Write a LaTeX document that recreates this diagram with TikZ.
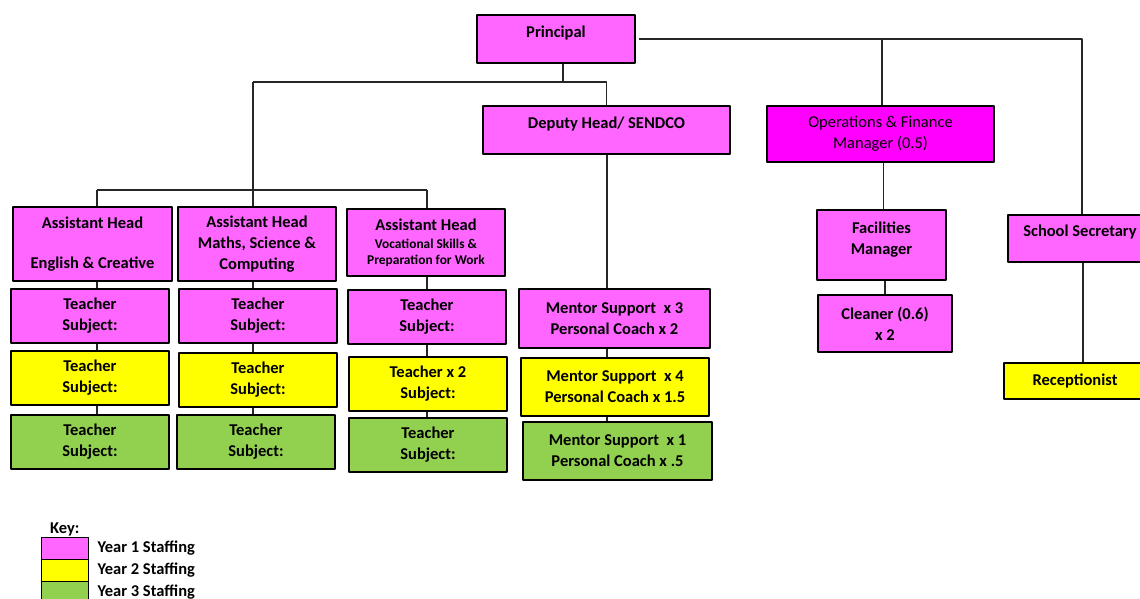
\documentclass[tikz,border=0pt]{standalone}
\usepackage{fontspec}
\setmainfont{Carlito}
\definecolor{yrone}{HTML}{FF66FF}
\definecolor{opsmag}{HTML}{FF00FF}
\definecolor{yrtwo}{HTML}{FFFF00}
\definecolor{yrthree}{HTML}{92D050}
\newcommand\orgfont{\fontsize{16.5}{21}\selectfont}
\newcommand\vocfont{\fontsize{13.4}{16}\selectfont}
\tikzset{
  post/.style={draw=black, line width=2.2pt, align=center, inner sep=0pt, font=\bfseries\orgfont},
  uptext/.style={text height=12pt, text depth=16pt},
  link/.style={draw=black!85, line width=1.8pt},
  swatch/.style={draw=black, line width=0.8pt, minimum width=47, minimum height=22, inner sep=0pt},
}
\begin{document}
\begin{tikzpicture}[x=1pt, y=-1pt, line join=round]
			\useasboundingbox (0,0) rectangle (1140,598);
			\clip (0,0) rectangle (1140,598);
			% top of the chart
			\node[post, uptext, fill=yrone, minimum width=158, minimum height=48] (principal) at (556,39) {Principal};
			\node[post, uptext, fill=yrone, minimum width=247, minimum height=48] (deputy) at (606.5,130) {Deputy Head/ SENDCO};
			\node[post, font=\orgfont, fill=opsmag, minimum width=227, minimum height=56] (ops) at (880.5,134) {Operations \& Finance\\Manager (0.5)};
			\node[post, fill=yrone, minimum width=129, minimum height=70] (fac) at (881.5,245) {Facilities\\Manager\\[-8pt]\mbox{}};
			\node[post, fill=yrone, minimum width=134, minimum height=57] (cleaner) at (885,323.5) {Cleaner (0.6)\\x 2};
			\node[post, uptext, fill=yrone, minimum width=144, minimum height=47] (secretary) at (1080,238.5) {School Secretary};
			\node[post, fill=yrtwo, minimum width=142, minimum height=36] (recep) at (1075,381) {Receptionist};
			% assistant heads
			\node[post, fill=yrone, minimum width=159, minimum height=74] (ah1) at (92.5,244) {Assistant Head\\[19pt]English \& Creative};
			\node[post, fill=yrone, minimum width=158, minimum height=74] (ah2) at (257,244) {Assistant Head\\Maths, Science \&\\Computing};
			\node[post, fill=yrone, minimum width=158, minimum height=67] (ah3) at (426,242.5) {Assistant Head\\[-3pt]{\vocfont Vocational Skills \&}\\[-5pt]{\vocfont Preparation for Work}};
			% teachers
			\node[post, fill=yrone, minimum width=158, minimum height=54] (t1a) at (90,316) {Teacher\\Subject:};
			\node[post, fill=yrone, minimum width=158, minimum height=54] (t2a) at (258,316) {Teacher\\Subject:};
			\node[post, fill=yrone, minimum width=158, minimum height=54] (t3a) at (427,317) {Teacher\\Subject:};
			\node[post, fill=yrtwo, minimum width=158, minimum height=54] (t1b) at (90,378) {Teacher\\Subject:};
			\node[post, fill=yrtwo, minimum width=158, minimum height=54] (t2b) at (258,380) {Teacher\\Subject:};
			\node[post, fill=yrtwo, minimum width=158, minimum height=54] (t3b) at (428,384) {Teacher x 2\\Subject:};
			\node[post, fill=yrthree, minimum width=158, minimum height=54] (t1c) at (90,442) {Teacher\\Subject:};
			\node[post, fill=yrthree, minimum width=158, minimum height=54] (t2c) at (256,442) {Teacher\\Subject:};
			\node[post, fill=yrthree, minimum width=158, minimum height=54] (t3c) at (428,445) {Teacher\\Subject:};
			% mentors
			\node[post, fill=yrone, minimum width=191, minimum height=59] (m1) at (614.5,318.5) {Mentor Support\ \ x 3\\Personal Coach x 2};
			\node[post, fill=yrtwo, minimum width=188, minimum height=58] (m2) at (615,387) {Mentor Support\ \ x 4\\Personal Coach x 1.5};
			\node[post, fill=yrthree, minimum width=189, minimum height=58] (m3) at (617.5,451) {Mentor Support\ \ x 1\\Personal Coach x .5};
			% connectors
			\coordinate (topbus) at (253,82);
			\coordinate (colA) at (97,190);
			\coordinate (colB) at (253,190);
			\coordinate (colC) at (427,190);
			\coordinate (colM) at (607,190);
			\draw[link] ([xshift=7pt]principal.south) -- ++(0,19);
			\draw[link] (topbus) -| (deputy.north);
			\draw[link] (topbus) -- (colB);
			\draw[link] (colA) -- (colC);
			\draw[link] ([xshift=3pt]principal.east) -| ([xshift=2pt]secretary.north);
			\draw[link] ([xshift=1.5pt]ops.north) -- ([xshift=1.5pt]ops.north |- principal.east);
			\foreach \c/\n in {colA/ah1, colB/ah2, colC/ah3}
				\draw[link] (\c) -- (\c |- \n.north);
			\foreach \c/\a/\b in {colA/ah1/t1a, colA/t1a/t1b, colA/t1b/t1c, colB/ah2/t2a, colB/t2a/t2b, colB/t2b/t2c, colC/ah3/t3a, colC/t3a/t3b, colC/t3b/t3c, colM/deputy/m1, colM/m1/m2, colM/m2/m3}
				\draw[link] (\c |- \a.south) -- (\c |- \b.north);
			\draw[link] ([xshift=3pt]ops.south) -- ([xshift=3pt]ops.south |- fac.north);
			\draw[link] ([xshift=3.5pt]fac.south) -- ([xshift=3.5pt]fac.south |- cleaner.north);
			\draw[link] ([xshift=3pt]secretary.south) -- ([xshift=3pt]secretary.south |- recep.north);
			% key
			\node[font=\bfseries\orgfont, anchor=west, inner sep=0pt] (keyhd) at (50,529) {Key:};
			\foreach \col [count=\i] in {yrone,yrtwo,yrthree}{
				\node[swatch, fill=\col] (key\i) at (64.5,{548+22*(\i-1)}) {};
				\node[font=\bfseries\orgfont, anchor=west, inner sep=0pt] (keytxt\i) at ([xshift=9pt]key\i.east) {Year \i\ Staffing};
			}
\end{tikzpicture}
\end{document}
